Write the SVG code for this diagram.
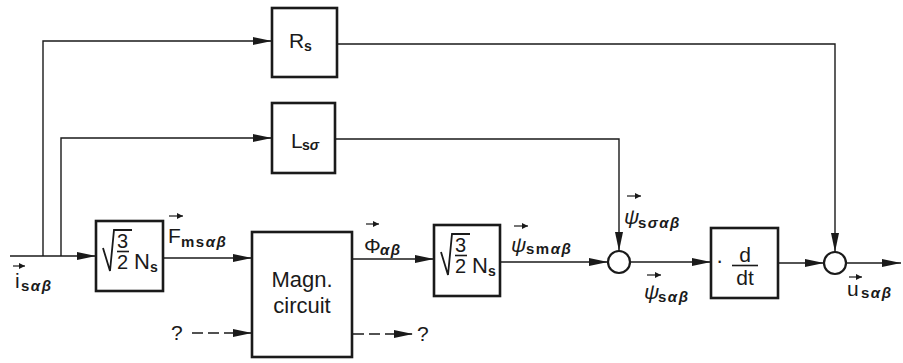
<svg xmlns="http://www.w3.org/2000/svg" width="903" height="363" viewBox="0 0 903 363">
<defs>
<style>
.box{fill:#fff;stroke:#1a1a1a;stroke-width:2.6}
.ln{fill:none;stroke:#1a1a1a;stroke-width:1.4}
.dash{fill:none;stroke:#1a1a1a;stroke-width:1.6;stroke-dasharray:11 5}
.va{fill:none;stroke:#1a1a1a;stroke-width:1.2}
.t{font-family:"Liberation Sans","DejaVu Sans",sans-serif;fill:#1a1a1a}
.big{font-size:22px}
.lab{font-size:21px}
.sub{font-size:15px;font-weight:bold;letter-spacing:1.5px}
.g{font-style:italic}
</style>
<marker id="ah" markerWidth="20" markerHeight="9" refX="19" refY="4.5" orient="auto" markerUnits="userSpaceOnUse"><path d="M0,0.5 L19,4.5 L0,8.5 Z" fill="#1a1a1a"/></marker>
<marker id="vh" markerWidth="7" markerHeight="6" refX="6" refY="3" orient="auto" markerUnits="userSpaceOnUse"><path d="M0,0 L6,3 L0,6 Z" fill="#1a1a1a"/></marker>
<g id="rad">
<polyline points="7,27 14,50 18,9 36,9" fill="none" stroke="#1a1a1a" stroke-width="1.8"/>
<text x="26.5" y="26.5" text-anchor="middle" class="t" font-size="20">3</text>
<line x1="21" y1="30.5" x2="33" y2="30.5" stroke="#1a1a1a" stroke-width="1.6"/>
<text x="26.5" y="48" text-anchor="middle" class="t" font-size="20">2</text>
<text x="38" y="48" class="t" font-size="22">N</text>
<text x="54" y="51" class="t" font-size="14" font-weight="bold">s</text>
</g>
</defs>
<rect width="903" height="363" fill="#fff"/>

<g id="connectors">
<line class="ln" x1="10" y1="256" x2="96" y2="256" marker-end="url(#ah)"/>
<polyline class="ln" points="43,256 43,41 272,41" marker-end="url(#ah)"/>
<polyline class="ln" points="61,256 61,138 272,138" marker-end="url(#ah)"/>
<line class="ln" x1="163" y1="258" x2="252" y2="258" marker-end="url(#ah)"/>
<line class="ln" x1="352" y1="259" x2="434" y2="259" marker-end="url(#ah)"/>
<line class="ln" x1="500" y1="262" x2="608" y2="262" marker-end="url(#ah)"/>
<polyline class="ln" points="335,139 619,139 619,251" marker-end="url(#ah)"/>
<line class="ln" x1="630" y1="262" x2="711" y2="262" marker-end="url(#ah)"/>
<polyline class="ln" points="337,44 835,44 835,252" marker-end="url(#ah)"/>
<line class="ln" x1="778" y1="263" x2="824" y2="263" marker-end="url(#ah)"/>
<line class="ln" x1="846" y1="263" x2="901" y2="263" marker-end="url(#ah)"/>
<line class="dash" x1="192" y1="333" x2="252" y2="333" marker-end="url(#ah)"/>
<line class="dash" x1="353" y1="334" x2="413" y2="334" marker-end="url(#ah)"/>
<text x="171" y="340" class="t lab">?</text>
<text x="417" y="341" class="t lab">?</text>

<g id="lbl-i">
<line class="va" x1="13" y1="266" x2="25" y2="266" marker-end="url(#vh)"/>
<text x="15" y="288" class="t lab">i</text>
<text x="21" y="291" class="t sub">s<tspan class="g">αβ</tspan></text>
</g>
<g id="lbl-F">
<line class="va" x1="169" y1="216" x2="183" y2="216" marker-end="url(#vh)"/>
<text x="168" y="243" class="t lab">F</text>
<text x="181" y="247" class="t sub">ms<tspan class="g">αβ</tspan></text>
</g>
<g id="lbl-phi">
<line class="va" x1="366" y1="224" x2="379" y2="224" marker-end="url(#vh)"/>
<text x="364" y="253" class="t lab">Φ</text>
<text x="380" y="255" class="t sub g">αβ</text>
</g>
<g id="lbl-psism">
<line class="va" x1="514" y1="226" x2="528" y2="226" marker-end="url(#vh)"/>
<text x="511" y="252" class="t lab g">ψ</text>
<text x="526" y="254" class="t sub">sm<tspan class="g">αβ</tspan></text>
</g>
<g id="lbl-psisig">
<line class="va" x1="627" y1="196" x2="641" y2="196" marker-end="url(#vh)"/>
<text x="624" y="224" class="t lab g">ψ</text>
<text x="638" y="228" class="t sub">s<tspan class="g">σαβ</tspan></text>
</g>
<g id="lbl-psis">
<line class="va" x1="647" y1="275" x2="661" y2="275" marker-end="url(#vh)"/>
<text x="644" y="299" class="t lab g">ψ</text>
<text x="658" y="302" class="t sub">s<tspan class="g">αβ</tspan></text>
</g>
<g id="lbl-u">
<line class="va" x1="849" y1="277" x2="862" y2="277" marker-end="url(#vh)"/>
<text x="847" y="296" class="t lab">u</text>
<text x="861" y="298" class="t sub">s<tspan class="g">αβ</tspan></text>
</g>
</g>

<g id="Rs">
<rect class="box" x="272" y="8" width="65" height="69"/>
<text x="289" y="48" class="t lab">R</text>
<text x="304" y="51" class="t" font-size="14" font-weight="bold">s</text>
</g>
<g id="Lsigma">
<rect class="box" x="272" y="103" width="63" height="70"/>
<text x="291" y="148" class="t lab">L</text>
<text x="302" y="150" class="t" font-size="14" font-weight="bold">s<tspan class="g">σ</tspan></text>
</g>
<g id="gain1">
<rect class="box" x="96" y="221" width="67" height="70"/>
<use href="#rad" x="96" y="221"/>
</g>
<g id="magn">
<rect class="box" x="252" y="232" width="100" height="125"/>
<text x="302" y="287" text-anchor="middle" class="t big">Magn.</text>
<text x="302" y="313" text-anchor="middle" class="t big">circuit</text>
</g>
<g id="gain2">
<rect class="box" x="434" y="225" width="66" height="71"/>
<use href="#rad" x="434" y="225"/>
</g>
<g id="sum1">
<circle cx="619" cy="262" r="11" fill="#fff" stroke="#1a1a1a" stroke-width="2.2"/>
</g>
<g id="ddt">
<rect class="box" x="711" y="228" width="67" height="70"/>
<text x="716" y="268" class="t big">·</text>
<text x="745" y="262" text-anchor="middle" class="t lab">d</text>
<line x1="732" y1="265.5" x2="758" y2="265.5" stroke="#1a1a1a" stroke-width="1.6"/>
<text x="745" y="285" text-anchor="middle" class="t lab">dt</text>
</g>
<g id="sum2">
<circle cx="835" cy="263" r="11" fill="#fff" stroke="#1a1a1a" stroke-width="2.2"/>
</g>
</svg>
